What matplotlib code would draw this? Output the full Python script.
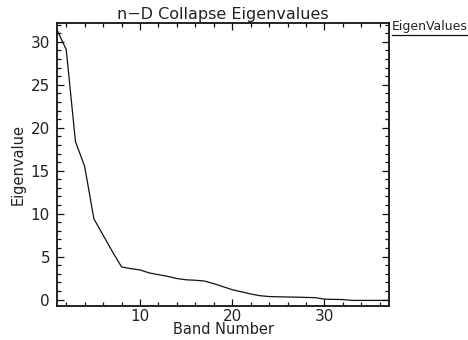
import numpy as np
import matplotlib
matplotlib.use('Agg')
import matplotlib.pyplot as plt
from matplotlib.ticker import MultipleLocator
from matplotlib.lines import Line2D

# eigenvalue per band
bands = list(range(1, 38))
eigenvalues = [31.4, 29.1, 18.4, 15.5, 9.4, 7.5, 5.6, 3.8, 3.6, 3.45,
               3.1, 2.9, 2.7, 2.45, 2.3, 2.25, 2.15, 1.85, 1.5, 1.15,
               0.9, 0.65, 0.45, 0.35, 0.32, 0.3, 0.28, 0.25, 0.22, 0.05,
               0.02, 0.0, -0.1, -0.1, -0.1, -0.1, -0.1]
title = 'n\u2212D Collapse Eigenvalues'
xlabel = 'Band Number'
ylabel = 'Eigenvalue'
legend_label = 'EigenValues'

plt.rcParams['font.family'] = 'DejaVu Sans'
fig = plt.figure(figsize=(4.68, 3.40), dpi=100)
ax = fig.add_axes([0.1218, 0.1, 0.7094, 0.8324])

ax.plot(bands, eigenvalues, color='#111111', lw=0.9)
ax.set_xlim(1, 37)
ax.set_ylim(-0.75, 32.2)

ax.xaxis.set_major_locator(MultipleLocator(10))
ax.xaxis.set_minor_locator(MultipleLocator(2))
ax.yaxis.set_major_locator(MultipleLocator(5))
ax.yaxis.set_minor_locator(MultipleLocator(1))
ax.tick_params(which='both', direction='in', top=True, right=True,
               labelsize=11, width=0.9, color='#111111', labelcolor='#222222')
ax.tick_params(which='major', length=5)
ax.tick_params(which='minor', length=3)
ax.tick_params(axis='x', pad=2)
ax.tick_params(axis='y', pad=5)
for s in ax.spines.values():
    s.set_linewidth(1.3)
    s.set_color('#111111')

ax.set_title(title, fontsize=11.5, pad=3, color='#222222')
ax.set_xlabel(xlabel, fontsize=10.5, labelpad=-1, color='#222222')
ax.set_ylabel(ylabel, fontsize=10.5, labelpad=4, color='#222222')

fig.text(0.838, 0.903, legend_label, fontsize=9, ha='left', va='bottom',
         color='#222222')
fig.add_artist(Line2D([0.838, 0.998], [0.898, 0.898], color='#111111', lw=0.9))

fig.savefig('out.png', dpi=100)
